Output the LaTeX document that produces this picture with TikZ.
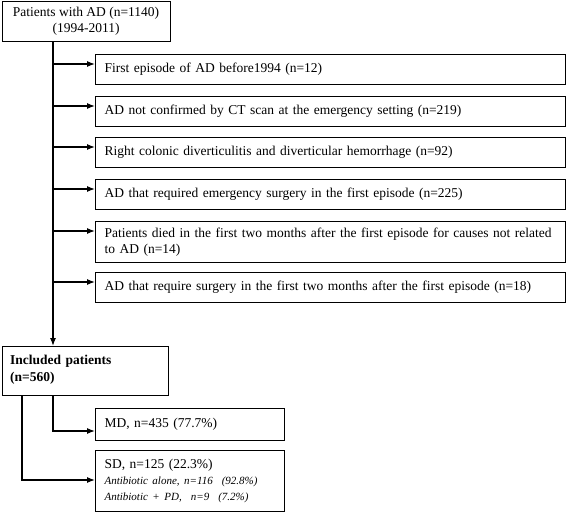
\documentclass[tikz,border=0pt]{standalone}
\usepackage{fontspec}
\setmainfont{Liberation Serif}
\usetikzlibrary{arrows.meta}
\usetikzlibrary{positioning}

\begin{document}
\begin{tikzpicture}[x=1pt, y=1pt, every node/.style={font=\fontsize{13.5}{16}\selectfont}]
	\tikzstyle{boxnode}=[draw=black, line width=1.2pt, anchor=north west, align=left, inner xsep=9pt, fill=none, text=black]
	\tikzstyle{topnode}=[boxnode, align=center, minimum width=168pt, minimum height=40pt]
	\tikzstyle{exclnode}=[boxnode, text width=452pt, minimum height=30pt]
	\tikzstyle{incnode}=[boxnode, inner xsep=8pt, text width=150pt]
	\tikzstyle{groupnode}=[boxnode, text width=171pt, minimum height=32pt]
	\tikzstyle{arr}=[line width=1.2pt, -{Latex[length=8pt,width=6pt]}]
	
	\useasboundingbox (0,0) rectangle (567,-514);
	
	\node (p0) at (1.5,-1) [topnode] {Patients with AD (n=1140)\\(1994-2011)};
	
	\node (x1) at (95,-54) [exclnode] {First episode of AD before1994 (n=12)};
	\node (x2) at (95,-96) [exclnode] {AD not confirmed by CT scan at the emergency setting (n=219)};
	\node (x3) at (95,-137) [exclnode] {Right colonic diverticulitis and diverticular hemorrhage (n=92)};
	\node (x4) at (95,-179) [exclnode] {AD that required emergency surgery in the first episode (n=225)};
	\node (x5) at (95,-221) [exclnode, minimum height=41pt] {Patients died in the first two months after the first episode for causes not related\\to AD (n=14)};
	\node (x6) at (95,-272) [exclnode] {AD that require surgery in the first two months after the first episode (n=18)};
	
	\node (p1) at (1.5,-346) [incnode, text height=15pt, text depth=27pt] {\textbf{Included patients}\\[1pt]\textbf{(n=560)}};
	
	\node (g1) at (95,-408) [groupnode] {MD, n=435 (77.7\%)};
	\node (g2) at (95,-450) [groupnode, text height=15pt, text depth=39pt] {SD, n=125 (22.3\%)\\
		{\itshape\fontsize{11}{12.5}\selectfont Antibiotic alone, n=116~~(92.8\%)}\\
		{\itshape\fontsize{11}{12.5}\selectfont Antibiotic + PD,~~n=9~~(7.2\%)}};
	
	\coordinate (c0) at ([xshift=51.5pt]p0.south west);
	\draw [arr] (c0) -- (c0 |- p1.north);
	\foreach \i in {1,...,6}{
		\coordinate (a\i) at ([yshift=-10pt]x\i.north west);
		\draw [arr] (c0 |- a\i) -- (a\i);
	}
	
	\coordinate (c1) at ([xshift=51.5pt]p1.south west);
	\coordinate (c2) at ([xshift=20.5pt]p1.south west);
	\coordinate (b1) at ([yshift=-23pt]g1.north west);
	\coordinate (b2) at ([yshift=-30pt]g2.north west);
	\draw [arr] (c1) |- (b1);
	\draw [arr] (c2) |- (b2);
\end{tikzpicture}
\end{document}
